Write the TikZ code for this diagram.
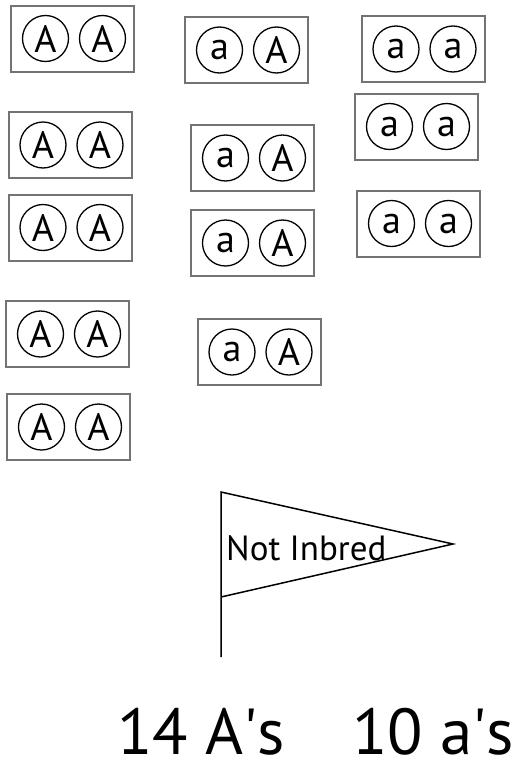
\documentclass[tikz,border=0pt]{standalone}
\usepackage{fontspec}
\setmainfont{PT Sans}
\usetikzlibrary{calc}

\begin{document}
\begin{tikzpicture}[
    x=1pt, y=-1pt,
    every node/.style={font=\fontsize{35}{35}\selectfont},
    allele/.style  = {draw, circle, line width=1.3pt, minimum size=46pt, inner sep=0pt, font=\fontsize{38}{38}\selectfont},
    pairbox/.style = {draw=black!55, line width=2pt, minimum width=123pt, minimum height=66pt, inner sep=0pt},
    flag/.style    = {line width=1.5pt, line join=miter},
    count/.style   = {anchor=base west, inner sep=0pt, font=\fontsize{65}{65}\selectfont},
  ]
\useasboundingbox (0,0) rectangle (514,763);

% one individual: box with its two alleles
\def\Pair#1#2#3#4{
    \node [pairbox] (#1) at (#2) {};
    \node [allele] (#1L) at ($(#1)+(-27,0)$) {#3};
    \node [allele] (#1R) at ($(#1)+(30,0)$) {#4};
    }

% left column
\Pair{p1}{72.5,38.5}{A}{A}
\Pair{p4}{70,145}{A}{A}
\Pair{p7}{70,227.5}{A}{A}
\Pair{p10}{67.5,334}{A}{A}
\Pair{p12}{68.5,427}{A}{A}

% middle column
\Pair{p2}{246.5,50}{a}{A}
\Pair{p5}{252.5,158}{a}{A}
\Pair{p8}{252.5,243}{a}{A}
\Pair{p11}{259,352}{a}{A}

% right column
\Pair{p3}{423,49}{a}{a}
\Pair{p6}{416.5,126.5}{a}{a}
\Pair{p9}{418.5,223.5}{a}{a}

% flag
\coordinate (PoleTop) at (221,492);
\coordinate (Tip) at (453,544);
\coordinate (PoleMid) at (221,597);
\coordinate (PoleFoot) at (221,657);
\draw [flag] (PoleFoot) -- (PoleTop) -- (Tip) -- (PoleMid);
\node [anchor=base west, inner sep=0pt] (flagtext) at (226,560) {Not Inbred};

% counts
\node [count] (countA) at (117,754) {14 A\textquotesingle s};
\node [count] (counta) at (352,754) {10 a\textquotesingle s};

\end{tikzpicture}
\end{document}
